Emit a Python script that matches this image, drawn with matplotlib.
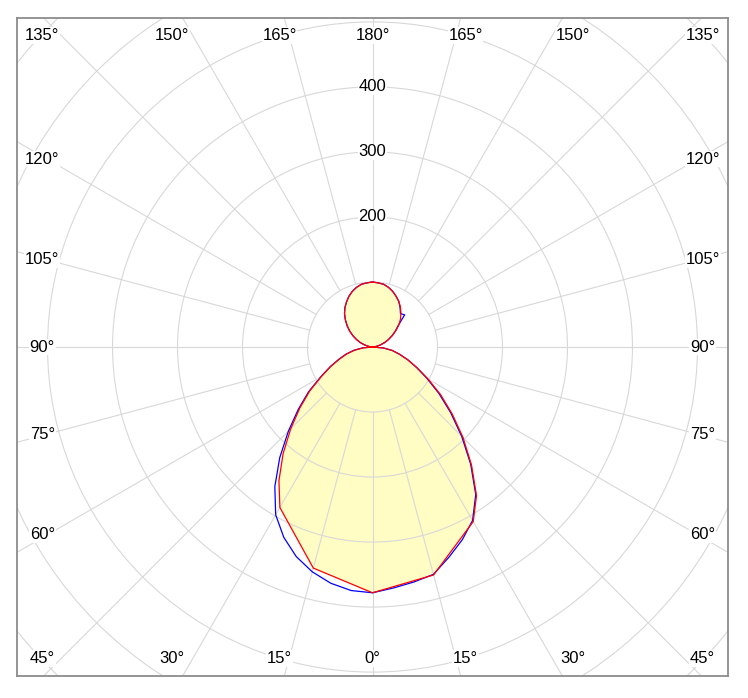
import numpy as np
import matplotlib
matplotlib.use('Agg')
import matplotlib.pyplot as plt
from matplotlib.patches import Circle

plt.rcParams['font.family'] = ['Liberation Sans', 'DejaVu Sans']

# angulos gamma (0 = abajo, 180 = arriba), paso 5 grados
angles = list(range(0, 185, 5))

# plano C90-C270 (azul), cd/klm
blue_right = [378, 372, 367, 362, 344, 327, 308, 277, 235, 194, 157, 125, 97, 75, 58, 43, 31, 17, 0,
              3, 7, 13, 20, 27, 35, 43, 52, 70, 67, 74, 81, 86, 91, 95, 98, 99, 100]
blue_left = [378, 376, 369, 358, 343, 323, 298, 262, 222, 183, 149, 120, 92, 72, 55, 42, 29, 15, 0,
             3, 7, 13, 20, 27, 35, 43, 51, 59, 67, 74, 80, 86, 91, 95, 98, 99, 100]

# plano C0-C180 (rojo)
red_angles = [0, 15, 30] + list(range(35, 185, 5))
red_right = [378, 363, 310, 279, 237, 197, 160, 128, 99, 76, 58, 43, 31, 17, 0,
             3, 7, 13, 20, 27, 35, 44, 53, 61, 68, 75, 81, 86, 91, 95, 98, 99, 100]
red_left = [378, 352, 285, 251, 214, 178, 146, 118, 91, 71, 54, 41, 28, 14, 0,
            3, 7, 13, 20, 27, 35, 43, 51, 59, 67, 74, 80, 86, 91, 95, 98, 99, 100]

rings = [100, 200, 300, 400, 500, 600, 700, 800]
ring_labels = [200, 300, 400]
spokes = list(range(-180, 180, 15))


def to_xy(ang, left, right):
    g = np.array([-a for a in ang[::-1]] + list(ang[1:]), dtype=float)
    r = np.array(left[::-1] + right[1:], dtype=float)
    t = np.radians(g)
    return r * np.sin(t), -r * np.cos(t)


fig = plt.figure(figsize=(7.48, 6.98), dpi=100)
ax = fig.add_axes([17 / 748, 22 / 698, 711 / 748, 658 / 698])
ax.set_xlim(-547, 547)
ax.set_ylim(-506, 506)
ax.set_xticks([])
ax.set_yticks([])
for s in ax.spines.values():
    s.set_color('#8c8c8c')
    s.set_linewidth(1.3)

grid = '#d8d8d8'
for r in rings:
    ax.add_patch(Circle((0, 0), r, fill=False, ec=grid, lw=0.8, zorder=1))
for a in spokes:
    t = np.radians(a)
    ax.plot([100 * np.sin(t), 1000 * np.sin(t)], [-100 * np.cos(t), -1000 * np.cos(t)],
            color=grid, lw=0.8, zorder=1)

xr, yr = to_xy(red_angles, red_left, red_right)
xb, yb = to_xy(angles, blue_left, blue_right)
ax.fill(xr, yr, color='#fffcc4', zorder=0, lw=0)
ax.plot(xb, yb, color='#0000ff', lw=0.9, zorder=3)
ax.plot(xr, yr, color='#ff0000', lw=0.9, zorder=3)

box = dict(facecolor='white', edgecolor='none', pad=0.5)
for r in ring_labels:
    ax.text(0, r, str(r), ha='center', va='center', fontsize=12, bbox=box, zorder=4)

# etiquetas de angulos en el borde
for a in range(-165, 181, 15):
    t = np.radians(a)
    s, c = np.sin(t), -np.cos(t)
    if abs(c) < abs(s) - 1e-9:
        x, y = np.sign(s) * 508, 500 * c / abs(s)
    else:
        x, y = np.clip(534 * s / abs(c), -508, 508), np.sign(c) * 479
    ax.text(x, y, f"{abs(a)}°", ha='center', va='center', fontsize=12, bbox=box, zorder=4)

fig.savefig('out.png', dpi=100)
